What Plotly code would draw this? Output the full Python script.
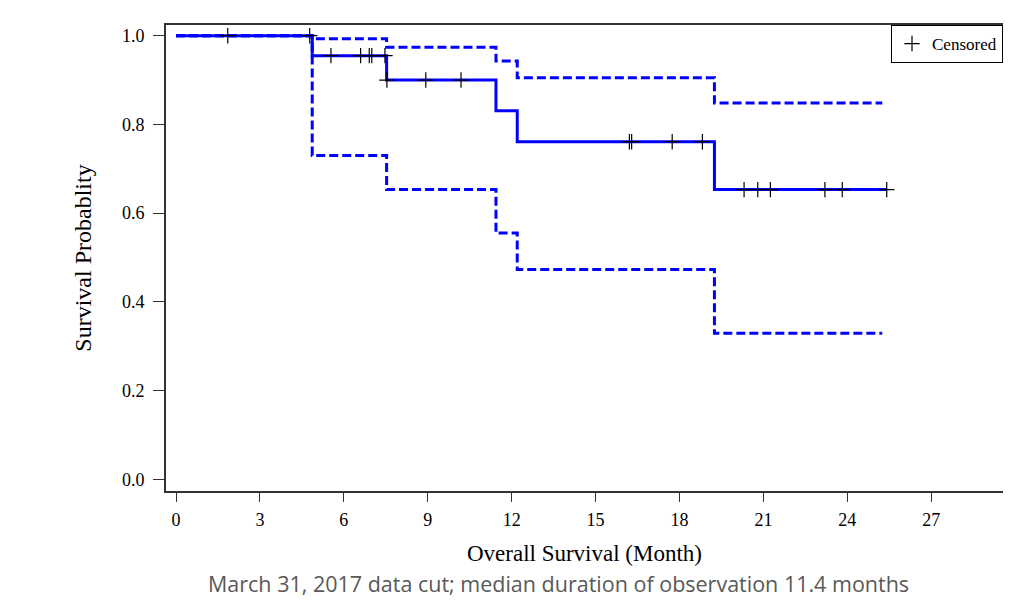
import plotly.graph_objects as go

# Kaplan-Meier estimate (step function)
km_time = [0, 4.87, 7.53, 11.44, 12.20, 19.25, 25.42]
km_surv = [1.0, 0.955, 0.900, 0.831, 0.761, 0.653, 0.653]

# Confidence limits (step functions)
ci_time = [0, 4.87, 7.53, 11.44, 12.20, 19.25, 25.25]
ci_upper = [1.0, 0.993, 0.974, 0.943, 0.905, 0.848, 0.848]
ci_lower = [1.0, 0.730, 0.653, 0.555, 0.473, 0.329, 0.329]

# Censored observations
cens_time = [1.85, 4.78, 5.54, 6.60, 6.91, 7.00, 7.47, 7.54, 8.93, 10.19,
             16.21, 16.29, 17.74, 18.82, 20.31, 20.80, 21.25, 23.20, 23.82, 25.41]

x_ticks = [0, 3, 6, 9, 12, 15, 18, 21, 24, 27, 30]
y_ticks = [0.0, 0.2, 0.4, 0.6, 0.8, 1.0]

caption = "March 31, 2017 data cut; median duration of observation 11.4 months"


def step_value(t):
    v = km_surv[0]
    for tt, s in zip(km_time, km_surv):
        if tt <= t:
            v = s
    return v


cens_surv = [step_value(t) for t in cens_time]

BLUE = "#0000FF"
SERIF = "Liberation Serif"
AXIS = "#333333"

fig = go.Figure()
fig.add_trace(go.Scatter(x=ci_time, y=ci_upper, mode="lines", line_shape="hv",
                         line=dict(color=BLUE, width=3, dash="9px,4px"),
                         showlegend=False, hoverinfo="skip"))
fig.add_trace(go.Scatter(x=ci_time, y=ci_lower, mode="lines", line_shape="hv",
                         line=dict(color=BLUE, width=3, dash="9px,4px"),
                         showlegend=False, hoverinfo="skip"))
fig.add_trace(go.Scatter(x=km_time, y=km_surv, mode="lines", line_shape="hv",
                         line=dict(color=BLUE, width=3),
                         showlegend=False))
fig.add_trace(go.Scatter(x=cens_time, y=cens_surv, mode="markers", name="Censored",
                         marker=dict(symbol="cross-thin", size=11,
                                     line=dict(color="black", width=1.2),
                                     color="black"),
                         showlegend=True))

x0, x1 = -0.3575, 29.567
fig.update_layout(
    width=995, height=591,
    margin=dict(l=158, r=0, t=17, b=108),
    paper_bgcolor="white", plot_bgcolor="white",
    font=dict(family=SERIF, color="black", size=18),
    xaxis=dict(range=[x0, x1], tickvals=x_ticks, ticktext=[str(v) for v in x_ticks],
               showline=True, linecolor=AXIS, linewidth=1.8, mirror=True,
               ticks="outside", ticklen=9, tickwidth=1.2, tickcolor=AXIS,
               showgrid=False, zeroline=False, ticklabelstandoff=2,
               tickfont=dict(family=SERIF, size=18, color="black"),
               title=dict(text="Overall Survival (Month)", standoff=16,
                          font=dict(family=SERIF, size=23, color="black"))),
    yaxis=dict(range=[-0.0264, 1.0241], tickvals=y_ticks,
               ticktext=["%.1f" % v for v in y_ticks],
               showline=True, linecolor=AXIS, linewidth=1.8,
               ticks="outside", ticklen=11, tickwidth=1.2, tickcolor=AXIS,
               showgrid=False, zeroline=False, ticklabelstandoff=5,
               tickfont=dict(family=SERIF, size=18, color="black"),
               title=dict(text="Survival Probablity", standoff=24,
                          font=dict(family=SERIF, size=24, color="black"))),
    legend=dict(x=1, xanchor="right", y=1.0, yanchor="top",
                bordercolor="black", borderwidth=1, bgcolor="white",
                font=dict(family=SERIF, size=17, color="black")),
    annotations=[dict(text=caption, xref="paper", yref="paper", x=0.4695,
                      y=-108 / 466, xanchor="center", yanchor="bottom",
                      showarrow=False, borderpad=0,
                      font=dict(family="Open Sans", size=21.5, color="#595959"))],
)

fig.write_html("out.html")
